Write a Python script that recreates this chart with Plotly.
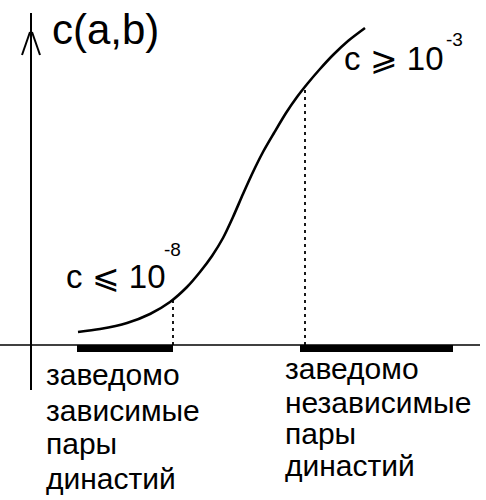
import numpy as np
import plotly.graph_objects as go

# Schematic sigmoid c(a,b); x = distance along axis, y = c (schematic units, origin at axes crossing)
curve_x = [47, 69, 96, 119, 139, 156, 169, 181, 192, 202, 212, 222, 232, 243, 255, 266, 277, 289, 302, 317, 334]
curve_y = [13, 16, 22, 31, 43, 58, 73, 89, 107, 128, 151, 173, 193, 212, 232, 248, 262, 276, 290, 304, 317]

# thresholds (x positions of dashed lines) and the two "known" ranges on the x axis
threshold_x = [142, 274]
dep_range = [46, 142]
indep_range = [269, 422]

# texts
y_label = "c(a,b)"
low_label, low_exp = "c ⩽ 10", "-8"
high_label, high_exp = "c ⩾ 10", "-3"
left_lines = ["заведомо", "зависимые", "пары", "династий"]
right_lines = ["заведомо", "независимые", "пары", "династий"]

FONT = "Liberation Sans, Arial, sans-serif"
BLACK = "#000000"

fig = go.Figure()

# axes
fig.add_shape(type="line", x0=-31, x1=449, y0=0, y1=0, line=dict(color=BLACK, width=1.6))
fig.add_shape(type="line", x0=0, x1=0, y0=-45, y1=332, line=dict(color=BLACK, width=2))
fig.add_shape(type="line", x0=-9, x1=-1, y0=290, y1=313, line=dict(color=BLACK, width=2))
fig.add_shape(type="line", x0=9, x1=1, y0=290, y1=313, line=dict(color=BLACK, width=2))

# dashed threshold lines up to the curve
for tx in threshold_x:
    ty = float(np.interp(tx, curve_x, curve_y))
    fig.add_shape(type="line", x0=tx, x1=tx, y0=0, y1=ty,
                  line=dict(color=BLACK, width=1.8, dash="3px,4px"))

# thick ranges
for rng in (dep_range, indep_range):
    fig.add_trace(go.Scatter(x=rng, y=[-3.5, -3.5], mode="lines",
                             line=dict(color=BLACK, width=7), hoverinfo="skip"))

# curve
fig.add_trace(go.Scatter(x=curve_x, y=curve_y, mode="lines",
                         line=dict(color=BLACK, width=2.6, shape="spline", smoothing=0.8),
                         hoverinfo="skip"))

def txt(x, y, s, size):
    fig.add_annotation(x=x, y=y, text=s, showarrow=False, xanchor="left", yanchor="middle",
                       font=dict(family=FONT, size=size, color=BLACK))

txt(19, 316, y_label, 42)
txt(33, 69, low_label, 33)
txt(131, 96, low_exp, 19)
txt(311, 287, high_label, 33)
txt(413, 306, high_exp, 19)

left_y = [-29, -65, -98, -133]
right_y = [-23, -57, -88, -120]
for s, yy in zip(left_lines, left_y):
    txt(13, yy, s, 30)
for s, yy in zip(right_lines, right_y):
    txt(252, yy, s, 30)

fig.update_layout(
    width=486, height=500, margin=dict(l=0, r=0, t=0, b=0),
    paper_bgcolor="white", plot_bgcolor="white", showlegend=False,
    xaxis=dict(range=[-31, 455], visible=False, fixedrange=True),
    yaxis=dict(range=[-155, 345], visible=False, fixedrange=True),
)

fig.write_html("out.html", config={"displayModeBar": False},
               post_script="document.body.style.margin='0';document.body.style.overflow='hidden';")
